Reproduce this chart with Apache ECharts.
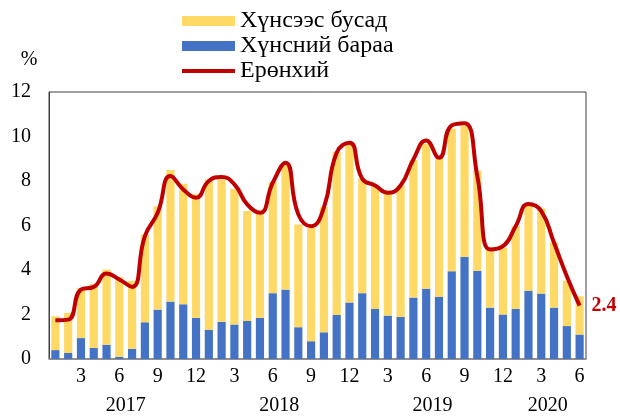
<!DOCTYPE html>
<html>
<head>
<meta charset="utf-8">
<script src="https://cdn.jsdelivr.net/npm/echarts@6/dist/echarts.min.js"></script>
<style>
  html, body { margin: 0; padding: 0; background: #fff; }
  #cpi-chart { width: 620px; height: 416px; }
</style>
</head>
<body>
<div id="cpi-chart"></div>
<script>
// months Jan 2017 .. Jun 2020
var monthLabels = [
    '1', '2', '3', '4', '5', '6', '7', '8', '9', '10', '11', '12',
    '1', '2', '3', '4', '5', '6', '7', '8', '9', '10', '11', '12',
    '1', '2', '3', '4', '5', '6', '7', '8', '9', '10', '11', '12',
    '1', '2', '3', '4', '5', '6'
];
var yearLabels = ['2017', '2018', '2019', '2020'];
var monthsPerYear = [12, 12, 12, 6];

// Хүнсний бараа (food)
var foodValues = [
    0.40, 0.27, 0.94, 0.50, 0.64, 0.10, 0.46, 1.65, 2.22, 2.58, 2.46, 1.85,
    1.32, 1.67, 1.55, 1.71, 1.85, 2.96, 3.12, 1.43, 0.80, 1.20, 1.98, 2.54,
    2.96, 2.25, 1.95, 1.89, 2.76, 3.16, 2.80, 3.94, 4.59, 3.97, 2.31, 2.00,
    2.25, 3.07, 2.94, 2.31, 1.48, 1.10
];
// Хүнсээс бусад (non-food)
var nonFoodValues = [
    1.52, 1.80, 2.25, 2.87, 3.38, 3.59, 3.05, 3.95, 4.65, 5.91, 5.42, 5.56,
    6.75, 6.40, 6.10, 4.94, 4.67, 4.99, 5.66, 4.62, 5.10, 5.63, 7.34, 7.11,
    5.16, 5.55, 5.45, 5.91, 6.18, 6.51, 6.24, 6.41, 5.88, 4.50, 2.71, 3.00,
    3.72, 3.88, 3.82, 2.94, 2.04, 1.72
];
// Ерөнхий (headline)
var totalValues = [
    1.74, 1.77, 3.12, 3.24, 3.84, 3.57, 3.24, 5.52, 6.57, 8.22, 7.62, 7.25,
    8.00, 8.18, 7.85, 6.95, 6.57, 7.92, 8.82, 6.50, 5.97, 6.80, 9.27, 9.72,
    8.10, 7.80, 7.47, 7.80, 8.97, 9.82, 9.04, 10.50, 10.60, 8.22, 4.92, 5.07,
    5.97, 6.97, 6.65, 5.22, 3.72, 2.40
];
var yTicks = [0, 2, 4, 6, 8, 10, 12];

// centre of each year's block of months, on a 0..N value scale
var yearCentres = [];
var start = 0;
monthsPerYear.forEach(function (n) {
    yearCentres.push(start + n / 2);
    start += n;
});

var serif = 'Liberation Serif, Times New Roman, serif';
// thin bar inside a 53x10 box, used as the legend mark of the line
var lineIcon = 'path://M0,0 M0,3 L53,3 L53,7 L0,7 Z M53,10';

var cpiChart = echarts.init(document.getElementById('cpi-chart'));
var cpiOption = {
    animation: false,
    textStyle: {
        fontFamily: serif
    },
    legend: {
        orient: 'vertical',
        left: 177,
        top: 4,
        itemWidth: 53,
        itemHeight: 10,
        itemGap: 1,
        textStyle: {
            fontFamily: serif,
            fontSize: 24,
            lineHeight: 24,
            color: '#000'
        },
        data: [
            {name: 'Хүнсээс бусад', icon: 'rect'},
            {name: 'Хүнсний бараа', icon: 'rect'},
            {name: 'Ерөнхий', icon: lineIcon}
        ]
    },
    grid: {
        show: true,
        left: 49,
        right: 34,
        top: 92,
        bottom: 56,
        borderColor: '#404040',
        borderWidth: 1,
        containLabel: false
    },
    xAxis: [{
        type: 'category',
        data: monthLabels,
        axisTick: {show: false},
        axisLine: {
            lineStyle: {color: '#8c8c8c', width: 1.5}
        },
        axisLabel: {
            interval: function (idx, val) {
                return Number(val) % 3 === 0;
            },
            margin: 8,
            fontFamily: serif,
            fontSize: 20,
            color: '#000'
        }
    }, {
        type: 'value',
        position: 'bottom',
        min: 0,
        max: monthLabels.length,
        offset: 29,
        axisLine: {show: false},
        axisTick: {show: false},
        splitLine: {show: false},
        axisLabel: {
            customValues: yearCentres,
            formatter: function (v) {
                return yearLabels[yearCentres.indexOf(v)];
            },
            margin: 8,
            fontFamily: serif,
            fontSize: 20,
            color: '#000'
        }
    }],
    yAxis: {
        type: 'value',
        min: yTicks[0],
        max: yTicks[yTicks.length - 1],
        interval: 2,
        name: '%',
        nameLocation: 'end',
        nameGap: 22,
        nameTextStyle: {
            fontFamily: serif,
            fontSize: 20,
            color: '#000',
            padding: [0, 40, 0, 0]
        },
        axisLine: {
            show: true,
            lineStyle: {color: '#404040'}
        },
        axisTick: {show: false},
        splitLine: {show: false},
        axisLabel: {
            margin: 18,
            fontFamily: serif,
            fontSize: 20,
            color: '#000'
        }
    },
    series: [{
        name: 'Хүнсний бараа',
        type: 'bar',
        stack: 'cpi',
        data: foodValues,
        barWidth: '64%',
        itemStyle: {color: '#4472C4'}
    }, {
        name: 'Хүнсээс бусад',
        type: 'bar',
        stack: 'cpi',
        data: nonFoodValues,
        barWidth: '64%',
        itemStyle: {color: '#FFD966'}
    }, {
        name: 'Ерөнхий',
        type: 'line',
        data: totalValues,
        smooth: 0.5,
        symbol: 'none',
        z: 5,
        itemStyle: {color: '#C00000'},
        lineStyle: {color: '#C00000', width: 4},
        endLabel: {
            show: true,
            distance: 12,
            formatter: function (p) {
                return p.value.toFixed(1);
            },
            fontFamily: serif,
            fontSize: 20,
            fontWeight: 'bold',
            color: '#C00000'
        }
    }]
};
cpiChart.setOption(cpiOption);
</script>
</body>
</html>
